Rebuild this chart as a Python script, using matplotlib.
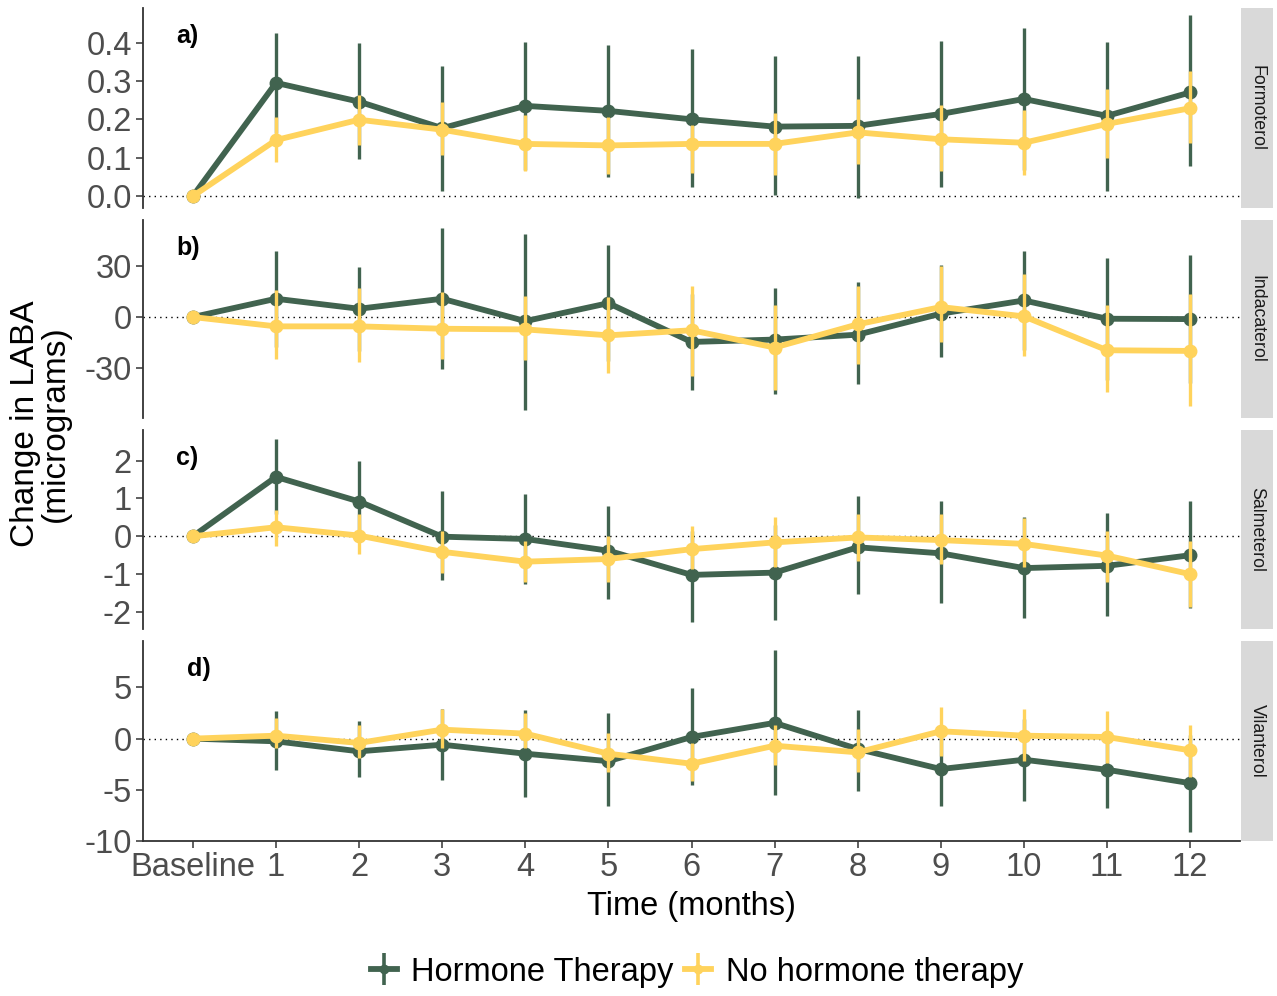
import numpy as np
import matplotlib
matplotlib.use("Agg")
import matplotlib.pyplot as plt
from matplotlib.patches import Rectangle

plt.rcParams['font.family'] = ['Liberation Sans', 'DejaVu Sans']

# x categories
months = ["Baseline", "1", "2", "3", "4", "5", "6", "7", "8", "9", "10", "11", "12"]
drugs = ["Formoterol", "Indacaterol", "Salmeterol", "Vilanterol"]
panel_tags = ["a)", "b)", "c)", "d)"]
groups = ["Hormone Therapy", "No hormone therapy"]

# Formoterol
form_ht_mean = [0, 0.295, 0.246, 0.177, 0.235, 0.222, 0.200, 0.181, 0.183, 0.214, 0.253, 0.209, 0.270]
form_ht_lo = [0, 0.164, 0.096, 0.013, 0.069, 0.050, 0.024, 0.003, -0.004, 0.024, 0.068, 0.013, 0.078]
form_ht_hi = [0, 0.426, 0.399, 0.338, 0.401, 0.394, 0.383, 0.364, 0.364, 0.405, 0.438, 0.401, 0.471]
form_nh_mean = [0, 0.146, 0.199, 0.173, 0.136, 0.132, 0.136, 0.136, 0.166, 0.148, 0.139, 0.188, 0.229]
form_nh_lo = [0, 0.088, 0.133, 0.107, 0.065, 0.058, 0.059, 0.055, 0.084, 0.065, 0.055, 0.099, 0.139]
form_nh_hi = [0, 0.207, 0.264, 0.244, 0.212, 0.206, 0.186, 0.217, 0.253, 0.238, 0.225, 0.279, 0.325]

# Indacaterol
inda_ht_mean = [0, 10.8, 4.9, 10.8, -2.4, 8.2, -14.7, -13.3, -10.4, 2.0, 9.8, -1.0, -1.2]
inda_ht_lo = [0, -17.6, -20.0, -30.4, -54.9, -26.2, -43.1, -45.5, -39.6, -23.5, -19.6, -37.0, -39.0]
inda_ht_hi = [0, 39.2, 29.8, 52.6, 49.0, 42.6, 13.7, 17.3, 20.6, 30.8, 39.2, 34.9, 36.9]
inda_nh_mean = [0, -5.5, -5.5, -6.9, -7.3, -10.8, -7.8, -18.0, -4.3, 5.9, 0.4, -19.6, -20.0]
inda_nh_lo = [0, -24.5, -26.5, -24.5, -25.5, -32.9, -34.7, -43.0, -27.5, -14.7, -22.9, -44.1, -52.5]
inda_nh_hi = [0, 15.7, 17.3, 14.7, 12.2, 11.8, 18.1, 6.9, 18.6, 30.4, 25.5, 6.9, 13.8]

# Salmeterol
salm_ht_mean = [0, 1.57, 0.92, -0.01, -0.07, -0.38, -1.02, -0.96, -0.29, -0.45, -0.84, -0.78, -0.50]
salm_ht_lo = [0, 0.58, -0.15, -1.16, -1.25, -1.65, -2.26, -2.22, -1.53, -1.76, -2.17, -2.11, -1.90]
salm_ht_hi = [0, 2.56, 1.99, 1.20, 1.11, 0.79, 0.13, 0.30, 1.06, 0.93, 0.51, 0.62, 0.93]
salm_nh_mean = [0, 0.24, 0.02, -0.41, -0.67, -0.60, -0.34, -0.16, -0.03, -0.10, -0.20, -0.51, -1.00]
salm_nh_lo = [0, -0.25, -0.47, -0.96, -1.22, -1.20, -0.87, -0.82, -0.66, -0.73, -0.82, -1.22, -1.87]
salm_nh_hi = [0, 0.70, 0.58, 0.14, -0.12, 0.02, 0.26, 0.51, 0.58, 0.58, 0.49, 0.15, -0.13]

# Vilanterol
vila_ht_mean = [0, -0.26, -1.24, -0.59, -1.47, -2.20, 0.16, 1.54, -1.01, -2.97, -2.06, -3.04, -4.35]
vila_ht_lo = [0, -3.04, -3.75, -4.0, -5.7, -6.6, -4.5, -5.5, -5.1, -6.6, -6.08, -6.8, -9.1]
vila_ht_hi = [0, 2.68, 1.70, 2.90, 2.84, 2.50, 4.97, 8.70, 2.84, 0.70, 1.96, 0.70, 0.40]
vila_nh_mean = [0, 0.29, -0.42, 0.88, 0.49, -1.47, -2.45, -0.69, -1.34, 0.72, 0.29, 0.16, -1.14]
vila_nh_lo = [0, -0.91, -1.90, -0.90, -0.90, -3.30, -4.18, -2.55, -3.30, -1.67, -2.20, -2.40, -3.70]
vila_nh_hi = [0, 2.03, 1.37, 2.94, 2.50, 0.56, -0.42, 1.37, 0.98, 3.10, 2.94, 2.68, 1.37]

# y axis setup per panel
yticks_list = [[0.0, 0.1, 0.2, 0.3, 0.4], [-30, 0, 30], [-2, -1, 0, 1, 2], [-10, -5, 0, 5]]
ytick_fmt = ["{:.1f}", "{:.0f}", "{:.0f}", "{:.0f}"]
ylims = [(-0.031, 0.49), (-59.6, 57.3), (-2.45, 2.81), (-10.0, 9.54)]

panels = [
    (form_ht_mean, form_ht_lo, form_ht_hi, form_nh_mean, form_nh_lo, form_nh_hi),
    (inda_ht_mean, inda_ht_lo, inda_ht_hi, inda_nh_mean, inda_nh_lo, inda_nh_hi),
    (salm_ht_mean, salm_ht_lo, salm_ht_hi, salm_nh_mean, salm_nh_lo, salm_nh_hi),
    (vila_ht_mean, vila_ht_lo, vila_ht_hi, vila_nh_mean, vila_nh_lo, vila_nh_hi),
]

green = "#41634f"
yellow = "#ffd35c"
axis_col = "#333333"
tick_col = "#4d4d4d"
fs = 23.5

W, H = 1277, 996
fig = plt.figure(figsize=(W / 100, H / 100), dpi=100)

# panel boxes in pixels: (top, bottom)
boxes = [(8, 208), (220, 418), (430, 629), (641, 841)]
left_px, right_px = 143, 1240
strip_right = 1273

x = np.arange(len(months))
axes = []
for i, (top, bot) in enumerate(boxes):
    ax = fig.add_axes([left_px / W, 1 - bot / H, (right_px - left_px) / W, (bot - top) / H])
    axes.append(ax)
    ht_m, ht_lo, ht_hi, nh_m, nh_lo, nh_hi = [np.array(v) for v in panels[i]]

    ax.axhline(0, color="black", ls=(0, (1, 3)), lw=1.0, zorder=1)

    for m, lo, hi, col, z in [(ht_m, ht_lo, ht_hi, green, 3), (nh_m, nh_lo, nh_hi, yellow, 4)]:
        ax.vlines(x, lo, hi, color=col, lw=2.4, zorder=z)
        ax.plot(x, m, color=col, lw=4.2, marker="o", ms=9, zorder=z, solid_capstyle="butt")

    ax.set_xlim(-0.6, 12.6)
    ax.set_ylim(*ylims[i])
    ax.set_yticks(yticks_list[i])
    ax.set_yticklabels([ytick_fmt[i].format(t) for t in yticks_list[i]])

    for s in ["top", "right"]:
        ax.spines[s].set_visible(False)
    ax.spines["left"].set_color(axis_col)
    ax.spines["left"].set_linewidth(1.3)
    ax.tick_params(axis="y", colors=axis_col, labelcolor=tick_col, labelsize=fs,
                   length=5, width=1.1, pad=3)
    if i < 3:
        ax.spines["bottom"].set_visible(False)
        ax.set_xticks([])
    else:
        ax.spines["bottom"].set_color(axis_col)
        ax.spines["bottom"].set_linewidth(1.3)
        ax.set_xticks(x)
        ax.set_xticklabels(months)
        ax.tick_params(axis="x", colors=axis_col, labelcolor=tick_col, labelsize=fs,
                       length=5, width=1.1, pad=3)

    # panel tag
    tag_x = 0.030 if i < 3 else 0.040
    ax.text(tag_x, 0.86, panel_tags[i], transform=ax.transAxes, fontsize=18,
            fontweight="bold", va="center", ha="left", color="black")

    # facet strip on the right
    sx0 = (1241 - left_px) / (right_px - left_px)
    sw = (strip_right - 1241) / (right_px - left_px)
    rect = Rectangle((sx0, 0), sw, 1, transform=ax.transAxes, facecolor="#d9d9d9",
                     edgecolor="none", clip_on=False)
    ax.add_patch(rect)
    ax.text(sx0 + sw / 2, 0.5, drugs[i], transform=ax.transAxes, rotation=-90,
            ha="center", va="center", fontsize=12.8, color="#1a1a1a")

axes[-1].set_xlabel("Time (months)", fontsize=fs, color="black", labelpad=6)

fig.text(40 / W, 1 - 424 / H, "Change in LABA\n(micrograms)", rotation=90,
         ha="center", va="center", fontsize=24, color="black", linespacing=0.95)

# legend
handles = []
for col in [green, yellow]:
    h = axes[0].errorbar([np.nan], [np.nan], yerr=[1], color=col, lw=4.2, elinewidth=2.6,
                         marker="o", ms=6, capsize=0)
    handles.append(h)
fig.legend(handles, groups, loc="center", bbox_to_anchor=(697 / W, 1 - 972 / H), ncol=2,
           frameon=False, fontsize=fs, handlelength=0.8, handletextpad=0.45,
           columnspacing=0.35)

fig.savefig("out.png", dpi=100)
